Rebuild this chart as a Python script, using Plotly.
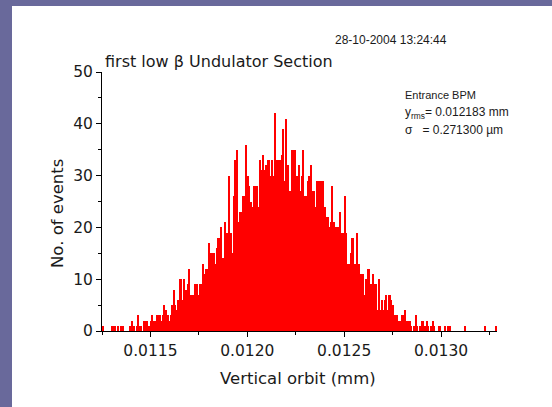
import plotly.graph_objects as go

# Histogram counts (256 bins)
counts = [
    1, 0, 0, 0, 0, 0, 1, 1, 1, 0, 1, 0, 1, 1, 0, 0, 0, 0, 1, 2,
    1, 0, 1, 3, 1, 1, 0, 2, 2, 2, 1, 2, 3, 2, 2, 3, 3, 3, 2, 3,
    5, 4, 3, 2, 3, 5, 8, 5, 4, 6, 10, 10, 6, 10, 8, 9, 12, 7, 7, 7,
    9, 9, 7, 9, 9, 13, 11, 12, 12, 17, 15, 15, 15, 13, 16, 18, 18, 20, 14, 21,
    19, 19, 30, 19, 15, 26, 33, 35, 21, 23, 23, 26, 26, 36, 30, 28, 25, 24, 28, 28,
    28, 24, 33, 31, 34, 31, 32, 33, 33, 30, 33, 30, 42, 33, 33, 33, 34, 39, 29, 41,
    32, 27, 27, 35, 35, 35, 30, 32, 27, 30, 35, 26, 26, 29, 30, 32, 27, 27, 24, 29,
    29, 29, 29, 29, 24, 22, 22, 20, 21, 28, 21, 20, 20, 20, 23, 19, 19, 26, 19, 13,
    13, 15, 18, 13, 13, 19, 13, 11, 11, 11, 7, 10, 12, 12, 9, 11, 9, 9, 4, 10,
    4, 6, 4, 6, 7, 4, 7, 6, 5, 3, 3, 3, 2, 2, 3, 3, 4, 2, 2, 2,
    1, 0, 1, 3, 1, 0, 1, 2, 2, 1, 2, 1, 0, 1, 2, 1, 0, 0, 1, 1,
    0, 0, 1, 0, 1, 1, 0, 0, 0, 0, 0, 0, 0, 0, 0, 1, 0, 0, 0, 0,
    0, 0, 0, 0, 0, 0, 0, 0, 1, 0, 0, 0, 0, 0, 0, 1,
]
bin_start = 0.0112511   # mm
bin_width = 7.959e-6    # mm

x_ticks = [0.0115, 0.0120, 0.0125, 0.0130]
x_tick_labels = ["0.0115", "0.0120", "0.0125", "0.0130"]
y_ticks = [0, 10, 20, 30, 40, 50]

centers = [bin_start + (i + 0.5) * bin_width for i in range(len(counts))]

FONT = "Liberation Sans, Arial, Helvetica, sans-serif"
WIDE = "DejaVu Sans, Verdana, sans-serif"
TXT = "#1a1a1a"
PURPLE = "#69699b"

fig = go.Figure()
fig.add_trace(go.Bar(
    x=centers, y=counts, width=[bin_width] * len(counts),
    marker=dict(color="#ff0000", line=dict(width=0)),
    showlegend=False,
))

W, H = 552, 407
L, R, T, B = 102, 55, 72, 76
pw, ph = W - L - R, H - T - B

def px(xp):
    return (xp - L) / pw

def py(yp):
    return (H - B - yp) / ph

fig.update_layout(
    width=W, height=H,
    margin=dict(l=L, r=R, t=T, b=B, pad=0),
    paper_bgcolor="white", plot_bgcolor="white",
    bargap=0,
    font=dict(family=FONT, color=TXT, size=14),
    xaxis=dict(
        range=[0.01125, 0.013289], showgrid=False, zeroline=False,
        showline=True, linecolor="black", linewidth=1,
        tickmode="array", tickvals=x_ticks, ticktext=x_tick_labels,
        ticks="outside", ticklen=5, tickcolor="black",
        tickfont=dict(size=15.5, family=WIDE, color=TXT),
        minor=dict(dtick=0.00025, tick0=0.01125, ticks="outside", ticklen=3, tickcolor="black"),
    ),
    yaxis=dict(
        range=[0, 50], showgrid=False, zeroline=False,
        showline=True, linecolor="black", linewidth=1,
        tickmode="array", tickvals=y_ticks,
        ticks="outside", ticklen=5, tickcolor="black",
        tickfont=dict(size=15.5, family=WIDE, color=TXT),
        minor=dict(dtick=5, tick0=0, ticks="outside", ticklen=3, tickcolor="black"),
    ),
    shapes=[
        dict(type="rect", xref="paper", yref="paper",
             x0=px(0), x1=px(12), y0=py(H), y1=py(0),
             fillcolor=PURPLE, line=dict(width=0), layer="below"),
        dict(type="rect", xref="paper", yref="paper",
             x0=px(0), x1=px(W), y0=py(6), y1=py(0),
             fillcolor=PURPLE, line=dict(width=0), layer="below"),
    ],
    annotations=[
        dict(text="28-10-2004 13:24:44", x=px(449), y=py(40), xref="paper", yref="paper",
             showarrow=False, xanchor="right", yanchor="middle",
             font=dict(size=12, family=FONT, color=TXT)),
        dict(text="first low β Undulator Section", x=px(103), y=py(61), xref="paper", yref="paper",
             showarrow=False, xanchor="left", yanchor="middle",
             font=dict(size=16, family=WIDE, color=TXT)),
        dict(text="Entrance BPM", x=px(403), y=py(95), xref="paper", yref="paper",
             showarrow=False, xanchor="left", yanchor="middle",
             font=dict(size=11, family=FONT, color=TXT)),
        dict(text="y<sub>rms</sub>= 0.012183 mm", x=px(403), y=py(113), xref="paper", yref="paper",
             showarrow=False, xanchor="left", yanchor="middle",
             font=dict(size=12, family=FONT, color=TXT)),
        dict(text="σ\u00a0\u00a0\u00a0= 0.271300 µm", x=px(403), y=py(130), xref="paper", yref="paper",
             showarrow=False, xanchor="left", yanchor="middle",
             font=dict(size=12, family=FONT, color=TXT)),
        dict(text="Vertical orbit (mm)", x=px(298), y=py(378), xref="paper", yref="paper",
             showarrow=False, xanchor="center", yanchor="middle",
             font=dict(size=16.5, family=WIDE, color=TXT)),
        dict(text="No. of events", x=px(57), y=py(214), xref="paper", yref="paper",
             showarrow=False, xanchor="center", yanchor="middle", textangle=-90,
             font=dict(size=16.5, family=WIDE, color=TXT)),
    ],
)

fig.write_html("out.html")
